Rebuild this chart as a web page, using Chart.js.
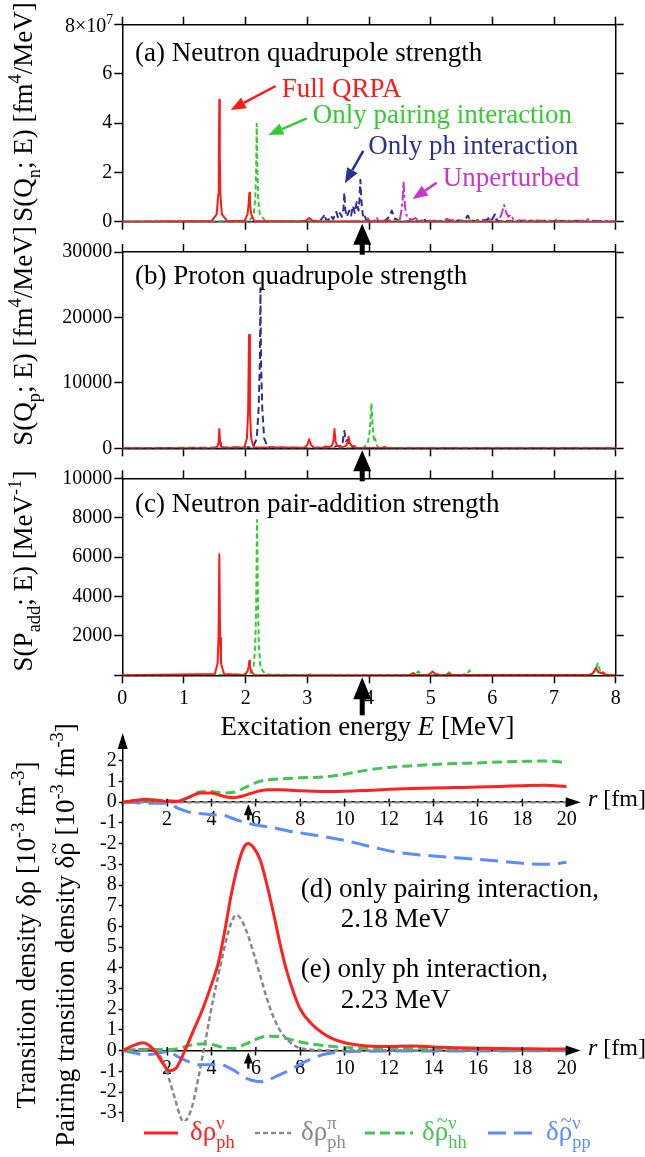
<!DOCTYPE html>
<html><head><meta charset="utf-8">
<script src="https://cdn.jsdelivr.net/npm/chart.js@4.4.0/dist/chart.umd.min.js"></script>
<style>
html,body{margin:0;padding:0;background:#fff;}
#wrap{position:relative;width:645px;height:1157px;overflow:hidden;background:#fff;}
canvas{position:absolute;left:0;top:0;}
</style></head><body>
<div id="wrap">
<canvas id="ca" width="645" height="1157"></canvas>
<canvas id="cb" width="645" height="1157"></canvas>
<canvas id="cc" width="645" height="1157"></canvas>
<canvas id="cr" width="645" height="1157"></canvas>
</div>
<script>
// ================= DATA =================
// Panel (a) neutron quadrupole strength, units of 10^7 fm^4/MeV
const A_FULL_E = [0, 1.45, 1.53, 1.555, 1.565, 1.573, 1.581, 1.591, 1.615, 1.70, 1.98, 2.03, 2.05, 2.06, 2.07, 2.09, 2.14, 2.90, 2.98, 3.03, 3.08, 3.20, 4.25, 4.29, 4.33, 8.0];
const A_FULL_S = [0, 0.03, 0.30, 1.10, 2.60, 4.95, 2.60, 1.10, 0.30, 0.03, 0.03, 0.30, 0.75, 1.18, 0.75, 0.30, 0.03, 0.01, 0.05, 0.15, 0.05, 0.01, 0.01, 0.06, 0.01, 0];
const A_PAIR_E = [0, 2.06, 2.13, 2.155, 2.17, 2.18, 2.19, 2.205, 2.23, 2.32, 2.60, 2.95, 3.00, 3.05, 3.50, 4.45, 4.50, 4.55, 5.65, 5.70, 5.75, 8.0];
const A_PAIR_S = [0, 0.03, 0.30, 0.90, 2.10, 3.98, 2.10, 0.90, 0.30, 0.03, 0.02, 0.02, 0.08, 0.02, 0.01, 0.01, 0.06, 0.01, 0.01, 0.05, 0.01, 0];
const A_PH_E = [0, 2.20, 3.20, 3.26, 3.28, 3.30, 3.34, 3.38, 3.42, 3.45, 3.47, 3.50, 3.53, 3.56, 3.585, 3.60, 3.615, 3.64, 3.68, 3.71, 3.74, 3.77, 3.80, 3.83, 3.845, 3.86, 3.875, 3.90, 3.92, 3.95, 4.00, 4.25, 4.33, 4.37, 4.41, 4.50, 4.85, 4.88, 4.92, 5.30, 5.55, 5.60, 5.65, 5.90, 5.96, 6.00, 6.04, 6.08, 6.50, 7.00, 7.05, 7.10, 8.0];
const A_PH_S = [0, 0, 0.02, 0.20, 0.30, 0.10, 0.05, 0.25, 0.10, 0.30, 0.40, 0.15, 0.35, 0.20, 0.50, 1.18, 0.50, 0.20, 0.45, 0.25, 0.65, 0.35, 0.80, 0.45, 0.90, 1.70, 0.90, 0.25, 0.35, 0.08, 0.02, 0.02, 0.20, 0.45, 0.15, 0.02, 0.02, 0.15, 0.02, 0.02, 0.05, 0.25, 0.03, 0.05, 0.20, 0.10, 0.30, 0.03, 0.02, 0.02, 0.08, 0.02, 0];
const A_UNP_E = [0, 3.50, 3.95, 3.98, 4.01, 4.08, 4.12, 4.16, 4.30, 4.50, 4.53, 4.545, 4.56, 4.575, 4.59, 4.62, 4.70, 4.75, 4.80, 5.20, 5.26, 5.32, 5.40, 5.50, 6.12, 6.16, 6.19, 6.22, 6.26, 6.30, 6.34, 6.40, 6.60, 7.00, 7.50, 7.55, 7.60, 8.0];
const A_UNP_S = [0, 0, 0.02, 0.15, 0.02, 0.03, 0.18, 0.03, 0.05, 0.10, 0.50, 0.90, 1.62, 0.90, 0.50, 0.15, 0.08, 0.15, 0.05, 0.03, 0.12, 0.05, 0.08, 0.03, 0.10, 0.40, 0.68, 0.40, 0.20, 0.28, 0.10, 0.06, 0.05, 0.04, 0.04, 0.10, 0.04, 0.02];

// Panel (b) proton quadrupole strength, fm^4/MeV
const B_FULL_E = [0, 1.50, 1.545, 1.56, 1.573, 1.586, 1.60, 1.65, 1.98, 2.02, 2.04, 2.055, 2.07, 2.09, 2.13, 2.95, 3.00, 3.03, 3.06, 3.11, 3.25, 3.30, 3.35, 3.40, 3.425, 3.44, 3.455, 3.48, 3.55, 3.62, 3.655, 3.67, 3.685, 3.72, 3.76, 3.80, 4.20, 4.25, 4.30, 8.0];
const B_FULL_S = [0, 30, 300, 900, 2950, 900, 300, 30, 150, 1500, 5500, 17300, 5500, 1500, 150, 80, 500, 1380, 500, 80, 80, 300, 150, 400, 1200, 2950, 1200, 400, 150, 300, 900, 1780, 900, 300, 350, 50, 50, 200, 50, 0];
const B_PH_E = [0, 2.12, 2.18, 2.21, 2.23, 2.24, 2.25, 2.27, 2.30, 2.36, 3.10, 3.25, 3.30, 3.45, 3.50, 3.55, 3.575, 3.60, 3.625, 3.65, 3.70, 3.80, 8.0];
const B_PH_S = [0, 150, 1500, 6000, 13000, 24460, 13000, 6000, 1500, 150, 30, 150, 50, 250, 400, 300, 1000, 2650, 1100, 1300, 250, 30, 0];
const B_PAIR_E = [0, 3.90, 3.98, 4.01, 4.03, 4.04, 4.05, 4.07, 4.085, 4.10, 4.115, 4.14, 4.20, 8.0];
const B_PAIR_S = [0, 30, 700, 2500, 5000, 6880, 5000, 2000, 1000, 1500, 800, 200, 30, 0];

// Panel (c) neutron pair-addition strength, MeV^-1
const C_FULL_E = [0, 1.50, 1.545, 1.56, 1.573, 1.586, 1.60, 1.65, 1.98, 2.03, 2.05, 2.06, 2.07, 2.09, 2.14, 4.60, 4.68, 4.72, 4.76, 4.95, 5.00, 5.03, 5.07, 5.15, 5.25, 5.30, 5.35, 5.50, 5.55, 5.60, 7.55, 7.63, 7.68, 7.72, 7.76, 7.79, 7.83, 7.90, 8.0];
const C_FULL_S = [0, 60, 600, 1900, 6140, 1900, 600, 60, 20, 200, 450, 740, 450, 200, 20, 0, 30, 100, 30, 20, 100, 200, 80, 20, 20, 80, 20, 10, 40, 10, 10, 100, 370, 150, 120, 150, 60, 10, 0];
const C_PAIR_E = [0, 2.06, 2.13, 2.155, 2.17, 2.185, 2.20, 2.215, 2.24, 2.32, 3.00, 3.05, 3.10, 3.30, 3.35, 3.40, 4.65, 4.72, 4.76, 4.80, 4.84, 4.90, 5.25, 5.30, 5.35, 5.58, 5.63, 5.68, 7.60, 7.66, 7.71, 7.75, 7.80, 8.0];
const C_PAIR_S = [0, 40, 400, 1500, 3500, 7880, 3500, 1500, 400, 40, 0, 50, 0, 0, 60, 0, 20, 120, 60, 200, 60, 20, 20, 150, 20, 20, 250, 20, 20, 200, 610, 200, 20, 0];

// Tick values
const E_TICKS_STEP = 1;
const A_YTICKS_STEP = 2, B_YTICKS_STEP = 10000, C_YTICKS_STEP = 2000;
const ARROW_E = 3.89;   // arrow mark (MeV)

// Lower panels: transition densities, 10^-3 fm^-3
// (d) only pairing interaction, 2.18 MeV
const R_D = [0, 0.5, 1, 1.5, 2, 2.5, 3, 3.5, 4, 4.5, 5, 5.5, 6, 6.5, 7, 7.5, 8, 9, 10, 11, 12, 13, 14, 15, 16, 17, 18, 19, 19.5, 20];
const D_PH_N = [0, 0.08, 0.14, 0.10, 0.03, 0.05, 0.25, 0.45, 0.45, 0.30, 0.22, 0.33, 0.50, 0.60, 0.60, 0.58, 0.55, 0.52, 0.53, 0.57, 0.62, 0.66, 0.69, 0.71, 0.73, 0.76, 0.80, 0.82, 0.80, 0.75];
const D_PH_P = [0, 0, 0, 0, 0, 0, 0, 0, 0, 0, 0, 0, 0, 0, 0, 0, 0, 0, 0, 0, 0, 0, 0, 0, 0, 0, 0, 0, 0, 0];
const D_HH_N = [0, 0.05, 0.10, 0.10, 0.08, 0.05, 0.25, 0.50, 0.52, 0.45, 0.48, 0.70, 0.95, 1.08, 1.12, 1.15, 1.18, 1.22, 1.35, 1.55, 1.68, 1.76, 1.82, 1.87, 1.90, 1.94, 1.97, 1.99, 1.97, 1.90];
const D_PP_N = [0, -0.02, -0.05, -0.05, -0.05, -0.30, -0.48, -0.55, -0.60, -0.62, -0.80, -0.98, -1.10, -1.18, -1.28, -1.40, -1.48, -1.65, -1.85, -2.10, -2.35, -2.50, -2.60, -2.68, -2.76, -2.85, -2.95, -3.00, -2.98, -2.90];
// (e) only ph interaction, 2.23 MeV
const R_E_RED = [0, 0.5, 0.9, 1.2, 1.5, 1.8, 2.1, 2.4, 2.8, 3.2, 3.6, 4.0, 4.3, 4.6, 4.9, 5.2, 5.45, 5.65, 5.9, 6.2, 6.5, 6.8, 7.1, 7.4, 7.7, 8.0, 8.5, 9.0, 9.5, 10, 10.5, 11, 12, 13, 14, 15, 16, 17, 18, 19, 20];
const E_PH_N = [0, 0.25, 0.38, 0.25, -0.10, -0.60, -0.97, -0.85, 0, 1.0, 2.0, 3.2, 4.2, 5.8, 7.6, 9.0, 9.8, 10.0, 9.8, 9.2, 8.0, 6.6, 5.1, 3.8, 2.8, 2.0, 1.3, 0.85, 0.55, 0.38, 0.28, 0.22, 0.20, 0.22, 0.18, 0.14, 0.12, 0.10, 0.09, 0.08, 0.08];
const R_E_GREY = [0, 0.5, 1, 1.5, 1.8, 2.1, 2.4, 2.6, 2.75, 2.9, 3.1, 3.3, 3.5, 3.7, 3.9, 4.1, 4.4, 4.7, 4.9, 5.1, 5.3, 5.6, 5.9, 6.2, 6.5, 6.8, 7.1, 7.4, 7.8, 8.2, 9, 10, 12, 14, 16, 18, 20];
const E_PH_P = [0, 0.05, 0.08, 0, -0.5, -1.4, -2.5, -3.2, -3.45, -3.3, -2.8, -1.9, -0.8, 0.3, 1.5, 2.6, 4.1, 5.5, 6.2, 6.55, 6.4, 5.7, 4.7, 3.6, 2.5, 1.6, 0.95, 0.55, 0.2, 0.08, 0.02, 0, 0, 0, 0, 0, 0];
const R_E_GREEN = [0, 0.5, 1, 1.5, 2, 2.5, 3, 3.5, 4, 4.5, 5, 5.5, 6, 6.5, 7, 7.5, 8, 8.5, 9, 10, 11, 12, 13, 14, 15, 16, 17, 18, 19, 20];
const E_HH_N = [0, 0.02, 0.05, 0.05, 0.05, 0.10, 0.25, 0.32, 0.30, 0.15, 0.10, 0.30, 0.55, 0.70, 0.68, 0.55, 0.42, 0.32, 0.25, 0.15, 0.12, 0.10, 0.10, 0.08, 0.07, 0.06, 0.05, 0.05, 0.05, 0.05];
const R_E_BLUE = [0, 0.5, 1, 1.5, 2, 2.5, 3, 3.5, 4, 4.5, 5, 5.5, 6, 6.3, 6.7, 7, 7.5, 8, 8.5, 9, 9.5, 10, 11, 12, 14, 16, 18, 20];
const E_PP_N = [0, -0.10, -0.20, -0.15, -0.05, -0.30, -0.55, -0.68, -0.68, -0.70, -0.95, -1.30, -1.48, -1.50, -1.35, -1.20, -0.95, -0.65, -0.40, -0.20, -0.10, -0.05, -0.03, -0.02, -0.02, -0.02, -0.01, -0.01];

const Y_TICKS_E = [-3, -2, -1, 0, 1, 2, 3, 4, 5, 6, 7, 8];
const Y_TICKS_D = [-3, -2, -1, 0, 1, 2];
const D_OFFSET = 12;       // panel (d) zero sits at 12 units of panel (e)
const R_TICK_STEP = 2;
const ARROW_R = 5.66;

// ================= STYLE =================
const SERIF = '"Liberation Serif","Times New Roman",serif';
const RED = '#ff1a1a', GREEN = '#33cc33', NAVY = '#2e3094', MAG = '#cc33cc';
const LRED = '#ff2020', GREY = '#888888', LGREEN = '#44c455', LBLUE = '#5b8cff';
Chart.defaults.font.family = SERIF;
Chart.defaults.color = '#000';
const W = 645, H = 1157;
const TICKFONT = {family: SERIF, size: 20, lineHeight: 1};

function xy(xs, ys) { return xs.map((x, i) => ({x: x, y: ys[i]})); }
function spec(label, xs, ys, color, dash) {
  return {label, data: xy(xs, ys), borderColor: color, borderDash: dash || [], borderWidth: 2,
          pointRadius: 0, fill: false, tension: 0, borderJoinStyle: 'round'};
}
function dens(label, xs, ys, color, dash, width, xid, yid) {
  return {label, data: xy(xs, ys), borderColor: color, borderDash: dash || [], borderWidth: width,
          pointRadius: 0, fill: false, cubicInterpolationMode: 'monotone', xAxisID: xid, yAxisID: yid};
}

// rich text: parts are strings or {t, it, tilde} or {sub, sup}
function rich(ctx, parts, x, y, size, color, align) {
  const segs = parts.map(p => typeof p === 'string' ? {t: p} : p);
  const fnt = (s, it) => (it ? 'italic ' : '') + s + 'px ' + SERIF;
  const sm = size * 0.68;
  const widths = segs.map(s => {
    if (s.sub !== undefined || s.sup !== undefined) {
      ctx.font = fnt(sm, false);
      return Math.max(s.sub ? ctx.measureText(s.sub).width : 0, s.sup ? ctx.measureText(s.sup).width : 0);
    }
    ctx.font = fnt(size, s.it); return ctx.measureText(s.t).width;
  });
  const total = widths.reduce((a, b) => a + b, 0);
  let cx = align === 'center' ? x - total / 2 : (align === 'right' ? x - total : x);
  ctx.save(); ctx.fillStyle = color; ctx.textBaseline = 'alphabetic'; ctx.textAlign = 'left';
  segs.forEach((s, i) => {
    if (s.sub !== undefined || s.sup !== undefined) {
      ctx.font = fnt(sm, false);
      if (s.sub) ctx.fillText(s.sub, cx, y + size * 0.30);
      if (s.sup) ctx.fillText(s.sup, cx, y - size * 0.40);
    } else {
      ctx.font = fnt(size, s.it); ctx.fillText(s.t, cx, y);
      if (s.tilde) {
        ctx.font = fnt(size * 0.75, false); ctx.textAlign = 'center';
        ctx.fillText('~', cx + widths[i] * 0.55, y - size * 0.48);
        ctx.textAlign = 'left';
      }
    }
    cx += widths[i];
  });
  ctx.restore();
  return total;
}
function yTitle(ctx, parts, baseX, cy) {
  ctx.save(); ctx.translate(baseX, cy); ctx.rotate(-Math.PI / 2);
  rich(ctx, parts, 0, 0, 27, '#000', 'center'); ctx.restore();
}
function upArrow(ctx, x, tipY, headH, halfW, stemBottom, stemHalf) {
  ctx.save(); ctx.fillStyle = '#000';
  ctx.beginPath(); ctx.moveTo(x, tipY); ctx.lineTo(x + halfW, tipY + headH); ctx.lineTo(x - halfW, tipY + headH); ctx.closePath(); ctx.fill();
  ctx.fillRect(x - stemHalf, tipY + headH - 1, 2 * stemHalf, stemBottom - (tipY + headH - 1));
  ctx.restore();
}
function arrowLine(ctx, x1, y1, x2, y2, color, lw, head, hw) {
  const a = Math.atan2(y2 - y1, x2 - x1);
  const bx = x2 - head * Math.cos(a), by = y2 - head * Math.sin(a);
  ctx.save(); ctx.strokeStyle = color; ctx.fillStyle = color; ctx.lineWidth = lw;
  ctx.beginPath(); ctx.moveTo(x1, y1); ctx.lineTo(bx, by); ctx.stroke();
  ctx.beginPath(); ctx.moveTo(x2, y2);
  ctx.lineTo(bx + hw * Math.sin(a), by - hw * Math.cos(a));
  ctx.lineTo(bx - hw * Math.sin(a), by + hw * Math.cos(a));
  ctx.closePath(); ctx.fill(); ctx.restore();
}
function text(ctx, s, x, y, color, size) {
  ctx.save(); ctx.font = (size || 27) + 'px ' + SERIF; ctx.fillStyle = color; ctx.textAlign = 'left'; ctx.textBaseline = 'alphabetic';
  ctx.fillText(s, x, y); ctx.restore();
}

// ================= UPPER PANELS =================
function tickGrid(len) { return {display: true, drawOnChartArea: false, drawTicks: true, tickLength: len, tickWidth: 1.5, tickColor: '#000', color: '#000'}; }
const BORDER = {display: true, color: '#000', width: 1.5};

function panel(id, area, cfg) {
  const yL = 70, yR = 10, xT = 10, xB = cfg.xLabels ? 40 : 10;
  return new Chart(document.getElementById(id), {
    type: 'line',
    data: {datasets: cfg.datasets},
    options: {
      responsive: false, animation: false, events: [],
      layout: {padding: {left: area.left - yL, right: W - area.right - yR, top: area.top - xT, bottom: H - area.bottom - xB}},
      plugins: {legend: {display: false}, tooltip: {enabled: false}},
      scales: {
        x: {type: 'linear', position: 'bottom', min: 0, max: 8,
            ticks: {stepSize: E_TICKS_STEP, display: !!cfg.xLabels, font: TICKFONT, padding: 5, maxRotation: 0, autoSkip: false, color: '#000', callback: v => String(v)},
            grid: tickGrid(8), border: BORDER, afterFit: s => { s.height = xB; }},
        x2: {type: 'linear', axis: 'x', position: 'top', min: 0, max: 8,
             ticks: {stepSize: E_TICKS_STEP, display: false}, grid: tickGrid(8), border: BORDER, afterFit: s => { s.height = xT; }},
        y: {type: 'linear', position: 'left', min: 0, max: cfg.ymax,
            ticks: {stepSize: cfg.ystep, font: TICKFONT, padding: 2, autoSkip: false, color: '#000', callback: cfg.ylabel},
            grid: tickGrid(8), border: BORDER, afterFit: s => { s.width = yL; }},
        y2: {type: 'linear', axis: 'y', position: 'right', min: 0, max: cfg.ymax,
             ticks: {stepSize: cfg.ystep, display: false}, grid: tickGrid(8), border: BORDER, afterFit: s => { s.width = yR; }}
      }
    },
    plugins: [{id: 'deco_' + id, afterDraw: chart => cfg.draw(chart)}]
  });
}

const ANNOT_A = [
  {text: 'Full QRPA', color: RED, tx: 2.584, ty: 5.08, from: [2.487, 5.51], to: [1.757, 4.54]},
  {text: 'Only pairing interaction', color: GREEN, tx: 3.087, ty: 4.0, from: [2.99, 4.20], to: [2.367, 3.52]},
  {text: 'Only ph interaction', color: NAVY, tx: 3.988, ty: 2.75, from: [3.907, 2.88], to: [3.61, 1.56]},
  {text: 'Unperturbed', color: MAG, tx: 5.195, ty: 1.43, from: [5.097, 1.58], to: [4.708, 0.92]}
];

panel('ca', {left: 122.3, right: 615.7, top: 24.7, bottom: 221.7}, {
  ymax: 8, ystep: A_YTICKS_STEP,
  ylabel: v => v === 8 ? '' : String(v),
  datasets: [
    spec('Full QRPA', A_FULL_E, A_FULL_S, RED),
    spec('Only pairing interaction', A_PAIR_E, A_PAIR_S, GREEN, [5, 3]),
    spec('Only ph interaction', A_PH_E, A_PH_S, NAVY, [7, 4]),
    spec('Unperturbed', A_UNP_E, A_UNP_S, MAG, [10, 3, 3, 3])
  ],
  draw: chart => {
    const ctx = chart.ctx, sx = chart.scales.x, sy = chart.scales.y;
    rich(ctx, ['8×10', {sup: '7'}], 113, sy.getPixelForValue(8) + 7, 20, '#000', 'right');
    text(ctx, '(a) Neutron quadrupole strength', 135, 61, '#000');
    yTitle(ctx, ['S(Q', {sub: 'n'}, '; E) [fm', {sup: '4'}, '/MeV]'], 32, 112);
    ANNOT_A.forEach(a => {
      text(ctx, a.text, sx.getPixelForValue(a.tx), sy.getPixelForValue(a.ty), a.color);
      arrowLine(ctx, sx.getPixelForValue(a.from[0]), sy.getPixelForValue(a.from[1]),
                sx.getPixelForValue(a.to[0]), sy.getPixelForValue(a.to[1]), a.color, 2.5, 15, 6);
    });
    const b = chart.chartArea.bottom;
    upArrow(ctx, sx.getPixelForValue(ARROW_E), b + 2, 21, 9, b + 33, 2.5);
  }
});

panel('cb', {left: 122.3, right: 615.7, top: 252, bottom: 448.3}, {
  ymax: 30000, ystep: B_YTICKS_STEP,
  ylabel: v => String(v),
  datasets: [
    spec('Full QRPA', B_FULL_E, B_FULL_S, RED),
    spec('Only pairing interaction', B_PAIR_E, B_PAIR_S, GREEN, [5, 3]),
    spec('Only ph interaction', B_PH_E, B_PH_S, NAVY, [7, 4])
  ],
  draw: chart => {
    const ctx = chart.ctx, sx = chart.scales.x;
    text(ctx, '(b) Proton quadrupole strength', 135, 284, '#000');
    yTitle(ctx, ['S(Q', {sub: 'p'}, '; E) [fm', {sup: '4'}, '/MeV]'], 32, 336);
    const b = chart.chartArea.bottom;
    upArrow(ctx, sx.getPixelForValue(ARROW_E), b + 2, 21, 9, b + 33, 2.5);
  }
});

panel('cc', {left: 122.3, right: 615.7, top: 478.3, bottom: 675.3}, {
  ymax: 10000, ystep: C_YTICKS_STEP, xLabels: true,
  ylabel: v => v === 0 ? '' : String(v),
  datasets: [
    spec('Full QRPA', C_FULL_E, C_FULL_S, RED),
    spec('Only pairing interaction', C_PAIR_E, C_PAIR_S, GREEN, [5, 3])
  ],
  draw: chart => {
    const ctx = chart.ctx, sx = chart.scales.x;
    text(ctx, '(c) Neutron pair-addition strength', 135, 512, '#000');
    yTitle(ctx, ['S(P', {sub: 'add'}, '; E) [MeV', {sup: '-1'}, ']'], 32, 571);
    rich(ctx, ['Excitation energy ', {t: 'E', it: true}, ' [MeV]'], 367.5, 735, 27, '#000', 'center');
    const b = chart.chartArea.bottom;
    upArrow(ctx, sx.getPixelForValue(ARROW_E), b + 2, 22, 9, b + 40, 2.5);
  }
});

// ================= LOWER PANEL =================
const LOWER = {left: 122.7, right: 566.7, top: 737, bottom: 1121};
const rAxis = (posVal) => ({
  type: 'linear', axis: 'x', position: {ye: posVal}, min: 0, max: 20,
  ticks: {stepSize: R_TICK_STEP, font: TICKFONT, padding: 4, maxRotation: 0, autoSkip: false, color: '#000', callback: v => v === 0 ? '' : String(v)},
  grid: {display: true, drawOnChartArea: false, drawTicks: true, tickLength: 4, tickWidth: 1.5, tickColor: '#000'},
  border: {display: true, color: '#000', width: 1.5}
});

new Chart(document.getElementById('cr'), {
  type: 'line',
  data: {datasets: [
    dens('d ph nu', R_D, D_PH_N, LRED, [], 3, 'xd', 'yd'),
    dens('d ph pi', R_D, D_PH_P, GREY, [5, 3], 2.5, 'xd', 'yd'),
    dens('d hh nu', R_D, D_HH_N, LGREEN, [10, 5], 3, 'xd', 'yd'),
    dens('d pp nu', R_D, D_PP_N, LBLUE, [18, 8], 3, 'xd', 'yd'),
    dens('e ph nu', R_E_RED, E_PH_N, LRED, [], 3, 'xe', 'ye'),
    dens('e ph pi', R_E_GREY, E_PH_P, GREY, [5, 3], 2.5, 'xe', 'ye'),
    dens('e hh nu', R_E_GREEN, E_HH_N, LGREEN, [10, 5], 3, 'xe', 'ye'),
    dens('e pp nu', R_E_BLUE, E_PP_N, LBLUE, [18, 8], 3, 'xe', 'ye')
  ]},
  options: {
    responsive: false, animation: false, events: [],
    layout: {padding: {left: LOWER.left - 40, right: W - LOWER.right, top: LOWER.top, bottom: H - LOWER.bottom}},
    plugins: {legend: {display: false}, tooltip: {enabled: false}},
    scales: {
      ye: {type: 'linear', axis: 'y', position: 'left', min: -3.4, max: 15.15, bounds: 'data',
           afterFit: s => { s.width = 40; },
           afterBuildTicks: s => { s.ticks = Y_TICKS_E.concat(Y_TICKS_D.map(v => v + D_OFFSET)).map(v => ({value: v})); },
           ticks: {font: TICKFONT, padding: 2, autoSkip: false, color: '#000', callback: v => String(v > 8.5 ? v - D_OFFSET : v)},
           grid: {display: true, drawOnChartArea: false, drawTicks: true, tickLength: 4, tickWidth: 1.5, tickColor: '#000'},
           border: {display: true, color: '#000', width: 1.5}},
      yd: {type: 'linear', axis: 'y', position: 'left', display: false, bounds: 'data', min: -3.4 - D_OFFSET, max: 15.15 - D_OFFSET},
      xd: rAxis(D_OFFSET),
      xe: rAxis(0)
    }
  },
  plugins: [{id: 'lowerDeco', afterDraw: chart => {
    const ctx = chart.ctx, ca = chart.chartArea, xd = chart.scales.xd, ye = chart.scales.ye;
    const yD0 = ye.getPixelForValue(D_OFFSET), yE0 = ye.getPixelForValue(0);
    ctx.save(); ctx.fillStyle = '#000'; ctx.strokeStyle = '#000'; ctx.lineWidth = 1.5;
    ctx.beginPath(); ctx.moveTo(ca.left, ca.top - 4); ctx.lineTo(ca.left + 5, ca.top + 12); ctx.lineTo(ca.left - 5, ca.top + 12); ctx.closePath(); ctx.fill();
    [yD0, yE0].forEach(y0 => {
      ctx.beginPath(); ctx.moveTo(ca.right, y0); ctx.lineTo(ca.right + 4, y0); ctx.stroke();
      ctx.beginPath(); ctx.moveTo(ca.right + 14, y0); ctx.lineTo(ca.right - 1, y0 - 5); ctx.lineTo(ca.right - 1, y0 + 5); ctx.closePath(); ctx.fill();
      for (let r = R_TICK_STEP; r <= 20; r += R_TICK_STEP) {
        const x = xd.getPixelForValue(r);
        ctx.beginPath(); ctx.moveTo(x, y0 - 3.5); ctx.lineTo(x, y0); ctx.stroke();
      }
      upArrow(ctx, xd.getPixelForValue(ARROW_R), y0 + 2, 11, 4.5, y0 + 18, 1.2);
    });
    ctx.restore();
    rich(ctx, [{t: 'r', it: true}, ' [fm]'], 588, yD0 + 4, 24, '#000', 'left');
    rich(ctx, [{t: 'r', it: true}, ' [fm]'], 588, yE0 + 4, 24, '#000', 'left');
    text(ctx, '(d) only pairing interaction,', 300.7, 896.7, '#000');
    text(ctx, '2.18 MeV', 340.7, 926.7, '#000');
    text(ctx, '(e) only ph interaction,', 300.7, 976.7, '#000');
    text(ctx, '2.23 MeV', 340.7, 1008, '#000');
    yTitle(ctx, ['Transition density δρ [10', {sup: '-3'}, ' fm', {sup: '-3'}, ']'], 35, 935);
    yTitle(ctx, ['Pairing transition density δ', {t: 'ρ', tilde: true}, ' [10', {sup: '-3'}, ' fm', {sup: '-3'}, ']'], 74, 935);
    const LEG = [
      {x1: 144, x2: 178, tx: 190, color: LRED, dash: [], w: 3, label: ['δρ', {sub: 'ph', sup: 'ν'}]},
      {x1: 255, x2: 291, tx: 301, color: GREY, dash: [5, 3], w: 2.5, label: ['δρ', {sub: 'ph', sup: 'π'}]},
      {x1: 365, x2: 413, tx: 422, color: LGREEN, dash: [10, 5], w: 3, label: ['δ', {t: 'ρ', tilde: true}, {sub: 'hh', sup: 'ν'}]},
      {x1: 488, x2: 536, tx: 546, color: LBLUE, dash: [18, 8], w: 3, label: ['δ', {t: 'ρ', tilde: true}, {sub: 'pp', sup: 'ν'}]}
    ];
    LEG.forEach(l => {
      ctx.save(); ctx.strokeStyle = l.color; ctx.lineWidth = l.w; ctx.setLineDash(l.dash);
      ctx.beginPath(); ctx.moveTo(l.x1, 1133); ctx.lineTo(l.x2, 1133); ctx.stroke(); ctx.restore();
      rich(ctx, l.label, l.tx, 1140, 27, l.color, 'left');
    });
  }}]
});
</script>
</body></html>
